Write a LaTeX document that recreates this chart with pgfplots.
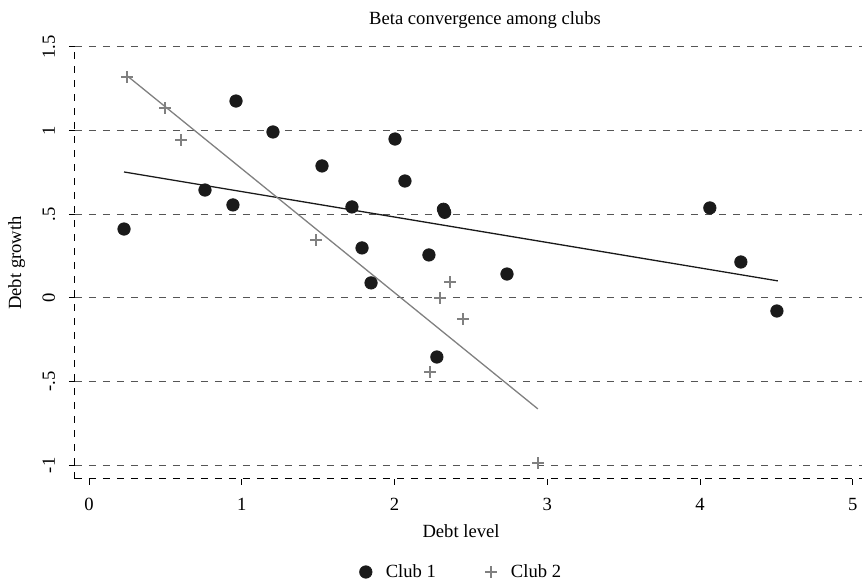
\documentclass[border=0pt]{standalone}
\usepackage{fontspec}
\setmainfont{Liberation Serif}
\usepackage{pgfplots}
\pgfplotsset{compat=1.18}
\definecolor{clubA}{RGB}{26,26,26}
\definecolor{clubB}{RGB}{128,128,128}
\definecolor{gridc}{RGB}{85,85,85}
\begin{document}
\fontsize{9.3}{11}\selectfont
\begin{tikzpicture}
\useasboundingbox (-37.5pt,-51pt) rectangle (394.5pt,239.5pt);
\begin{axis}[
  at={(0,0)}, anchor=south west,
  scale only axis, width=393.5pt, height=216pt,
  xmin=-0.092, xmax=5.06, ymin=-1.082, ymax=1.5,
  axis x line*=bottom, axis y line*=left,
  axis line style={black, line width=0.5pt, dash pattern=on 3.5pt off 3.5pt},
  xtick={0,1,2,3,4,5}, xticklabels={0,1,2,3,4,5},
  ytick={-1,-0.5,0,0.5,1,1.5}, yticklabels={-1,-.5,0,.5,1,1.5},
  ymajorgrids,
  grid style={gridc, line width=0.5pt, dash pattern=on 3.5pt off 3.5pt},
  tick align=outside, major tick length=3pt,
  tick style={black, line width=0.5pt},
  xticklabel style={anchor=base, yshift=-13pt},
  yticklabel style={xshift=-7pt, rotate=90, anchor=base},
  font=\fontsize{9.3}{11}\selectfont,
  title={Beta convergence among clubs},
  title style={at={(axis description cs:0.521,1.0232)}, anchor=base},
  xlabel={Debt level},
  xlabel style={at={(axis description cs:0.4905,-0.1366)}, anchor=base},
  ylabel={Debt growth},
  ylabel style={at={(axis description cs:-0.0686,0.5)}, rotate=0, anchor=base},
  legend columns=2,
  legend style={at={(axis description cs:0.4917,-0.2153)}, anchor=center,
    draw=none, fill=none, inner sep=0pt,
    /tikz/every even column/.append style={column sep=22pt}},
  legend image code/.code={\path[draw=none,fill=none] (1.5pt,0pt) -- (13pt,0pt);
    \draw[#1] plot coordinates {(5pt,0pt)};},
]
\addplot[only marks, mark=*, mark size=3.1pt, color=clubA, fill=clubA] coordinates {
(0.229,0.412) (0.759,0.645) (0.942,0.556) (0.962,1.177) (1.204,0.992)
(1.525,0.789) (1.721,0.544) (1.787,0.299) (1.846,0.090) (2.003,0.950)
(2.068,0.699) (2.225,0.257) (2.277,-0.353) (2.320,0.530) (2.328,0.512)
(2.736,0.143) (4.064,0.538) (4.267,0.215) (4.503,-0.078)
};
\addlegendentry{Club 1}
\addplot[only marks, mark=+, mark size=2.9pt, color=clubB, line width=0.8pt] coordinates {
(0.249,1.321) (0.498,1.135) (0.602,0.944) (1.486,0.347) (2.232,-0.442)
(2.297,0.000) (2.363,0.096) (2.448,-0.125) (2.938,-0.986)
};
\addlegendentry{Club 2}
\addplot[forget plot, clubA, line width=0.65pt] coordinates {(0.229,0.753) (4.509,0.102)};
\addplot[forget plot, clubB, line width=0.65pt] coordinates {(0.249,1.328) (2.938,-0.663)};
\end{axis}
\end{tikzpicture}
\end{document}
